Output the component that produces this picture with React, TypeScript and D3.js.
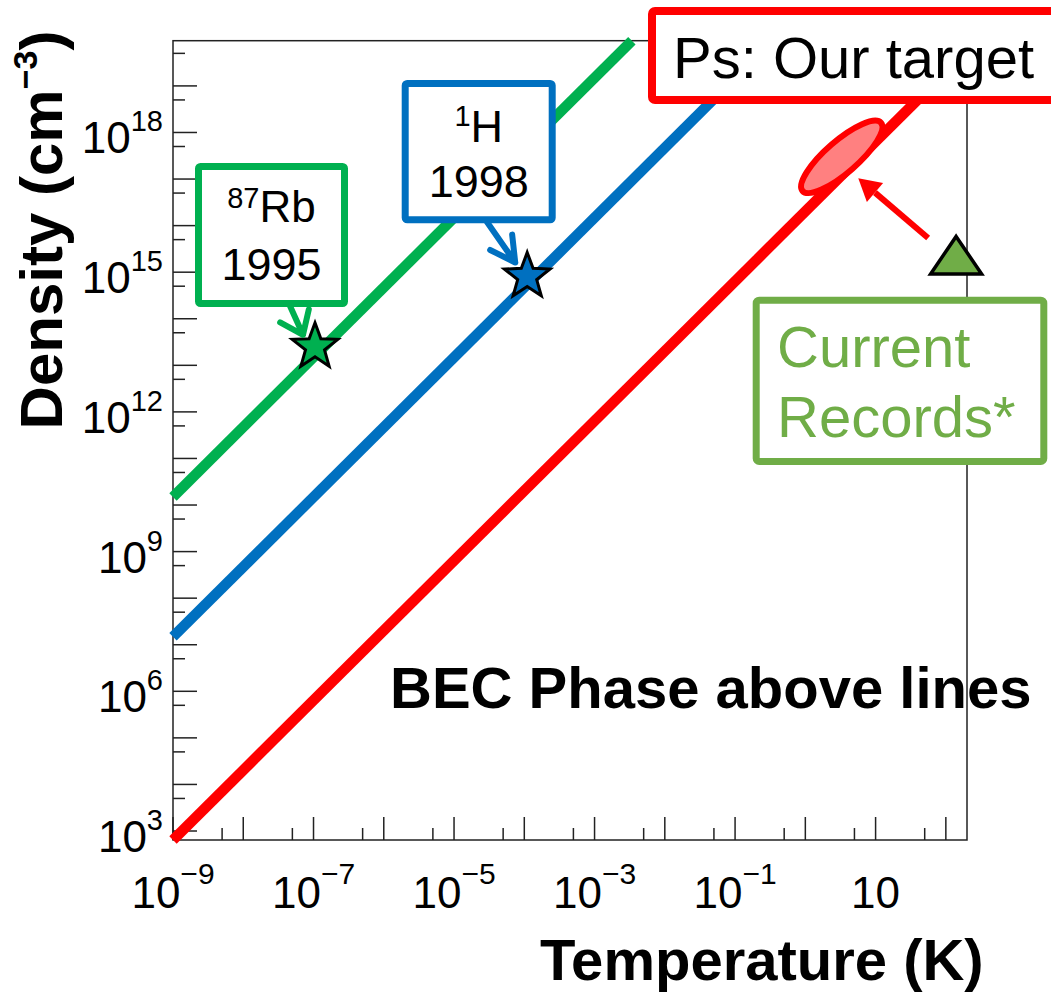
import React from 'react';
import * as d3 from 'd3';

const W = 1051;
const H = 995;
const FONT = '"Liberation Sans", Arial, Helvetica, sans-serif';

// BEC transition lines: [temperature (K), density (cm^-3)] endpoints
const rb87Line: [number, number][] = [[1e-9, 1.49e10], [3.4e-3, 9.3e19]];
const h1Line: [number, number][] = [[1e-9, 1.48e7], [0.34, 9.3e19]];
const psLine: [number, number][] = [[1e-9, 641], [200, 5.7e19]];

// Experimental BEC points
const rb87Star: [number, number] = [1.05e-7, 2.5e13];
const h1Star: [number, number] = [1.1e-4, 8.1e14];

// Target region for positronium and current record
const psTarget: [number, number] = [3.3, 3.0e17];
const currentRecord: [number, number] = [140, 1.7e15];

// Axis ranges and tick exponents
const xDomain: [number, number] = [1e-9, 200];
const yDomain: [number, number] = [641, 9.35e19];
const xMajorExp = d3.range(-9, 3);
const xMinorExp = d3.range(-9, 2);
const yMajorExp = d3.range(3, 20);
const yMinorExp = d3.range(3, 20);
const xLabelExp = [-9, -7, -5, -3, -1, 1];
const yLabelExp = [3, 6, 9, 12, 15, 18];

const GREEN = '#00b050';
const BLUE = '#0070c0';
const RED = '#ff0000';
const RECORD = '#70ad47';

const left = 173;
const right = 967;
const top = 40.7;
const bottom = 840;

function starPath(cx: number, cy: number, R: number, r: number) {
  const pts: string[] = [];
  for (let i = 0; i < 10; i++) {
    const rad = i % 2 === 0 ? R : r;
    const a = -Math.PI / 2 + (i * Math.PI) / 5;
    pts.push(`${(cx + rad * Math.cos(a)).toFixed(2)},${(cy + rad * Math.sin(a)).toFixed(2)}`);
  }
  return `M${pts.join('L')}Z`;
}

// open chevron arrow: shaft plus two arms at the tip
function chevronArrow(x0: number, y0: number, x1: number, y1: number, len: number, ang: number) {
  const back = Math.atan2(y0 - y1, x0 - x1);
  const a1 = back + ang;
  const a2 = back - ang;
  return `M${x0},${y0}L${x1},${y1}M${x1 + len * Math.cos(a1)},${y1 + len * Math.sin(a1)}L${x1},${y1}L${x1 + len * Math.cos(a2)},${y1 + len * Math.sin(a2)}`;
}

function supLabel(exp: number) {
  return exp === 1 ? '' : `${exp < 0 ? '\u2212' : ''}${Math.abs(exp)}`;
}

export default function App() {
  const x = d3.scaleLog().domain(xDomain).range([left, right]);
  const y = d3.scaleLog().domain(yDomain).range([bottom, top]);
  const line = d3
    .line<[number, number]>()
    .x((d) => x(d[0]))
    .y((d) => y(d[1]));

  const [rbx, rby] = [x(rb87Star[0]), y(rb87Star[1])];
  const [hx, hy] = [x(h1Star[0]), y(h1Star[1])];
  const [ex, ey] = [x(psTarget[0]), y(psTarget[1])];
  const [tx, ty] = [x(currentRecord[0]), y(currentRecord[1])];

  // red arrow from the current record toward the target region
  const rs = [tx - 28, ty - 23.5];
  const rt = [ex + 16.5, ey + 21.5];
  const dir = Math.atan2(rt[1] - rs[1], rt[0] - rs[0]);
  const headLen = 22;
  const headHalf = 12.5;
  const baseMid = [rt[0] - headLen * Math.cos(dir), rt[1] - headLen * Math.sin(dir)];
  const perp = [-Math.sin(dir), Math.cos(dir)];
  const head = `M${rt[0]},${rt[1]}L${baseMid[0] + headHalf * perp[0]},${baseMid[1] + headHalf * perp[1]}L${baseMid[0] - headHalf * perp[0]},${baseMid[1] - headHalf * perp[1]}Z`;

  return (
    <svg
      width={W}
      height={H}
      viewBox={`0 0 ${W} ${H}`}
      style={{ position: 'absolute', left: 0, top: 0, background: '#fff' }}
      fontFamily={FONT}
    >
      <rect width={W} height={H} fill="#fff" />

      {/* frame */}
      <rect x={left} y={top} width={right - left} height={bottom - top} fill="none" stroke="#222" strokeWidth={1.5} />

      {/* x ticks */}
      {xMajorExp.map((k) => (
        <line key={`xM${k}`} x1={x(10 ** k)} x2={x(10 ** k)} y1={bottom} y2={bottom - 23} stroke="#222" strokeWidth={1.5} />
      ))}
      {xMinorExp.map((k) => (
        <line key={`xm${k}`} x1={x(5 * 10 ** k)} x2={x(5 * 10 ** k)} y1={bottom} y2={bottom - 12} stroke="#222" strokeWidth={1.5} />
      ))}
      {/* y ticks */}
      {yMajorExp.map((k) => (
        <line key={`yM${k}`} x1={left} x2={left + 24} y1={y(10 ** k)} y2={y(10 ** k)} stroke="#222" strokeWidth={1.5} />
      ))}
      {yMinorExp.map((k) => (
        <line key={`ym${k}`} x1={left} x2={left + 12} y1={y(5 * 10 ** k)} y2={y(5 * 10 ** k)} stroke="#222" strokeWidth={1.5} />
      ))}

      {/* tick labels */}
      {xLabelExp.map((k) => (
        <text key={`xl${k}`} x={x(10 ** k)} y={907.5} textAnchor="middle" fontSize={44} fill="#000">
          10
          {k !== 1 && (
            <tspan dy={-24} fontSize={30}>
              {supLabel(k)}
            </tspan>
          )}
        </text>
      ))}
      {yLabelExp.map((k) => (
        <text key={`yl${k}`} x={163} y={y(10 ** k) + 21} textAnchor="end" fontSize={44} fill="#000">
          10
          <tspan dy={-22} fontSize={29}>
            {supLabel(k)}
          </tspan>
        </text>
      ))}

      {/* axis titles */}
      <text transform="translate(62,230) rotate(-90)" textAnchor="middle" fontSize={60} fontWeight="bold" fill="#000">
        Density (cm
        <tspan dy={-25} fontSize={34}>
          {'\u2212'}3
        </tspan>
        <tspan dy={25}>)</tspan>
      </text>
      <text x={540} y={980} fontSize={58} fontWeight="bold" fill="#000">
        Temperature (K)
      </text>

      {/* BEC lines */}
      <path d={line(rb87Line) ?? ''} fill="none" stroke={GREEN} strokeWidth={10.5} />
      <path d={line(h1Line) ?? ''} fill="none" stroke={BLUE} strokeWidth={10.5} />
      <path d={line(psLine) ?? ''} fill="none" stroke={RED} strokeWidth={10.5} />

      <text x={390} y={708} fontSize={58} fontWeight="bold" fill="#000">
        BEC Phase above lines
      </text>

      {/* stars */}
      <path d={starPath(rbx, rby, 24, 10)} fill={GREEN} stroke="#000" strokeWidth={3} strokeLinejoin="miter" />
      <path d={starPath(hx, hy, 24, 10)} fill={BLUE} stroke="#000" strokeWidth={3} strokeLinejoin="miter" />

      {/* target ellipse */}
      <ellipse
        cx={ex}
        cy={ey}
        rx={52}
        ry={16}
        transform={`rotate(-41 ${ex} ${ey})`}
        fill="#ff8080"
        stroke={RED}
        strokeWidth={6}
      />

      {/* red arrow */}
      <line x1={rs[0]} y1={rs[1]} x2={baseMid[0]} y2={baseMid[1]} stroke={RED} strokeWidth={6} />
      <path d={head} fill={RED} />

      {/* current record marker */}
      <path
        d={`M${tx},${ty - 25}L${tx + 25.5},${ty + 12.5}L${tx - 25.5},${ty + 12.5}Z`}
        fill={RECORD}
        stroke="#000"
        strokeWidth={3.5}
        strokeLinejoin="miter"
      />

      {/* callout arrows */}
      <path d={chevronArrow(290, 306, rbx - 12, rby - 12, 26, 0.65)} fill="none" stroke={GREEN} strokeWidth={6} strokeLinecap="round" strokeLinejoin="round" />
      <path d={chevronArrow(487, 222, hx - 12, hy - 14, 28, 0.5)} fill="none" stroke={BLUE} strokeWidth={6} strokeLinecap="round" strokeLinejoin="round" />

      {/* callout boxes */}
      <rect x={198.5} y={166.5} width={146} height={137} rx={2} fill="#fff" stroke={GREEN} strokeWidth={7} />
      <text x={271.5} y={221.7} textAnchor="middle" fontSize={44} fill="#000">
        <tspan fontSize={29} dy={-14}>87</tspan>
        <tspan dy={14}>Rb</tspan>
      </text>
      <text x={271.5} y={280} textAnchor="middle" fontSize={45} fill="#000">
        1995
      </text>

      <rect x={405.2} y={83.5} width={147} height={136.3} rx={2} fill="#fff" stroke={BLUE} strokeWidth={7} />
      <text x={478.7} y={141.7} textAnchor="middle" fontSize={45} fill="#000">
        <tspan fontSize={29} dy={-16}>1</tspan>
        <tspan dy={16}>H</tspan>
      </text>
      <text x={478.7} y={196.7} textAnchor="middle" fontSize={45} fill="#000">
        1998
      </text>

      <rect x={652} y={11} width={420} height={89} rx={3} fill="#fff" stroke={RED} strokeWidth={8} />
      <text x={673} y={78} fontSize={58} fill="#000">
        Ps: Our target
      </text>

      <rect x={756.2} y={300.2} width={287.6} height={161.3} rx={3} fill="#fff" stroke={RECORD} strokeWidth={7} />
      <text x={777} y={367} fontSize={58} fill={RECORD}>
        Current
      </text>
      <text x={777} y={437} fontSize={58} fill={RECORD}>
        Records*
      </text>
    </svg>
  );
}
